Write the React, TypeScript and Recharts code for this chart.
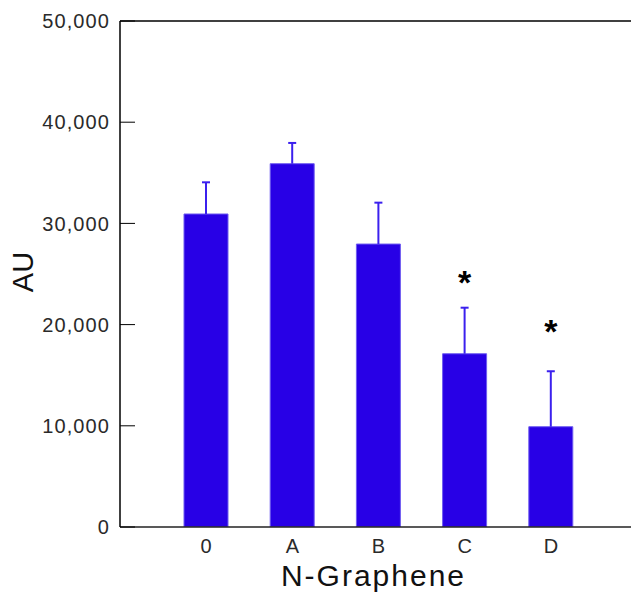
import React from 'react';
import { ComposedChart, Bar, XAxis, YAxis, Scatter, ReferenceLine, Label } from 'recharts';

const categories = ['0', 'A', 'B', 'C', 'D'];
const means = [30930, 35900, 27960, 17120, 9910];
const errors = [3130, 2050, 4090, 4550, 5480];
const sigMarks: (number | null)[] = [null, null, null, 24900, 20060];
const yTicks = [0, 10000, 20000, 30000, 40000, 50000];

const data = categories.map((c, i) => ({
  name: c,
  mean: means[i],
  err: errors[i],
  sig: sigMarks[i],
}));

const FONT = '"Liberation Sans", Arial, sans-serif';
const fmt = (v: number) => v.toLocaleString('en-US');

const LeftTick = (props: any) => {
  const { x, y, payload } = props;
  return (
    <g>
      <line x1={x} x2={x + 15} y1={y} y2={y} stroke="#000" strokeWidth={1} />
      <text x={x - 10} y={y} dy="0.36em" textAnchor="end" fontFamily={FONT} fontSize={20} letterSpacing={1.1} fill="#2a2a2a">
        {fmt(payload.value)}
      </text>
    </g>
  );
};

const RightTick = (props: any) => {
  const { x, y } = props;
  return <line x1={x - 15} x2={x} y1={y} y2={y} stroke="#000" strokeWidth={1} />;
};

const BottomTick = (props: any) => {
  const { x, y, payload } = props;
  return (
    <text x={x} y={y} dy="0.71em" textAnchor="middle" fontFamily={FONT} fontSize={20} fill="#2a2a2a">
      {payload.value}
    </text>
  );
};

// Upper-only error whisker drawn from the stacked error segment's geometry
const Whisker = (props: any) => {
  const { x, y, width, height } = props;
  if (x == null || y == null || !height) return <g />;
  const cx = x + width / 2;
  return (
    <g>
      <line x1={cx} x2={cx} y1={y} y2={y + height} stroke="#3b20ee" strokeWidth={2} />
      <line x1={cx - 4} x2={cx + 4} y1={y} y2={y} stroke="#3b20ee" strokeWidth={2} />
    </g>
  );
};

const Star = (props: any) => {
  const { cx, cy, payload } = props;
  if (payload == null || payload.sig == null || cx == null || cy == null || isNaN(cy)) return <g />;
  return (
    <text x={cx} y={cy + 19} textAnchor="middle" fontFamily={FONT} fontSize={34} fontWeight="bold" fill="#000">
      *
    </text>
  );
};

export default function App() {
  return (
    <div style={{ position: 'absolute', left: 0, top: 0, width: 631, height: 593, overflow: 'hidden', background: '#fff' }}>
      <ComposedChart width={640} height={593} data={data} margin={{ top: 21, right: 0, bottom: 0, left: 0 }}>
        <XAxis
          dataKey="name"
          type="category"
          height={66}
          padding={{ left: 43, right: 43 }}
          tickLine={false}
          tickSize={0}
          tickMargin={12}
          axisLine={{ stroke: '#222', strokeWidth: 1.5 }}
          tick={<BottomTick />}
        >
          <Label
            content={(p: any) => {
              const vb = p.viewBox;
              return (
                <text x={vb.x + vb.width / 2 - 5} y={vb.y + vb.height - 7} textAnchor="middle" fontFamily={FONT} fontSize={30} letterSpacing={2} fill="#111">
                  N-Graphene
                </text>
              );
            }}
          />
        </XAxis>
        <YAxis
          yAxisId="left"
          width={120}
          domain={[0, 50000]}
          ticks={yTicks}
          interval={0}
          allowDataOverflow
          tickLine={false}
          tickSize={0}
          tickMargin={0}
          axisLine={{ stroke: '#000', strokeWidth: 1.5 }}
          tick={<LeftTick />}
        >
          <Label
            content={(p: any) => {
              const vb = p.viewBox;
              const cy = vb.y + vb.height / 2 - 2;
              return (
                <text x={33} y={cy} transform={`rotate(-90, 33, ${cy})`} textAnchor="middle" fontFamily={FONT} fontSize={29} fill="#111">
                  AU
                </text>
              );
            }}
          />
        </YAxis>
        <YAxis
          yAxisId="right"
          orientation="right"
          width={3}
          domain={[0, 50000]}
          ticks={yTicks}
          interval={0}
          tickLine={false}
          tickSize={0}
          tickMargin={0}
          axisLine={{ stroke: '#000' }}
          tick={<RightTick />}
        />
        <ReferenceLine yAxisId="left" y={50000} stroke="#000" strokeWidth={1.5} />
        <Bar yAxisId="left" stackId="s" dataKey="mean" barSize={44} fill="#2800e6" stroke="#6f5cf0" strokeWidth={1} isAnimationActive={false} />
        <Bar yAxisId="left" stackId="s" dataKey="err" barSize={44} shape={<Whisker />} isAnimationActive={false} />
        <Scatter yAxisId="left" dataKey="sig" shape={<Star />} isAnimationActive={false} />
      </ComposedChart>
    </div>
  );
}
